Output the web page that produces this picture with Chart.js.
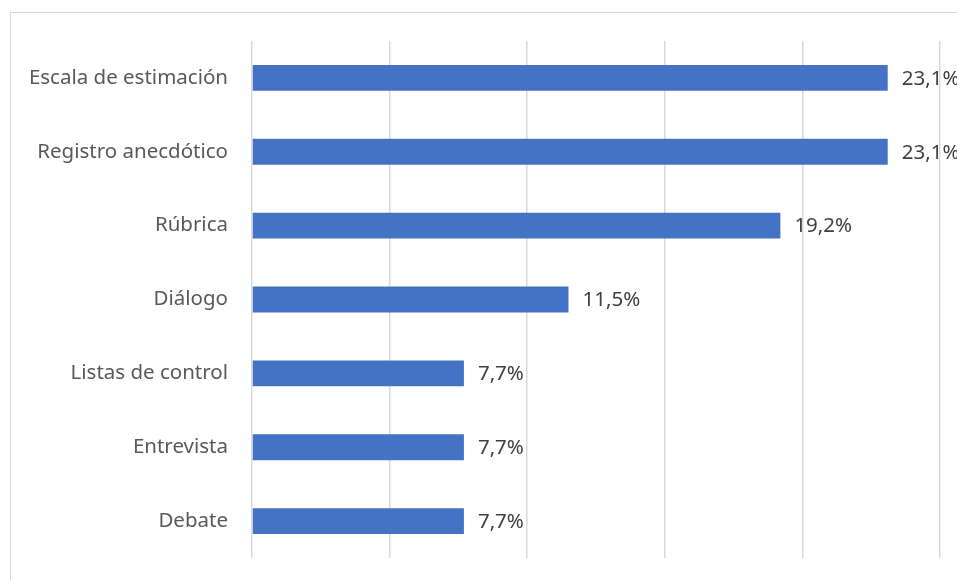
<!DOCTYPE html>
<html><head><meta charset="utf-8">
<style>html,body{margin:0;padding:0;background:#fff;}#wrap{width:957px;height:580px;position:relative;}</style>
<script src="https://cdn.jsdelivr.net/npm/chart.js@4.4.1/dist/chart.umd.min.js"></script>
</head><body><div id="wrap"><canvas id="c" width="957" height="580"></canvas></div>
<script>
const categories = ["Escala de estimación","Registro anecdótico","Rúbrica","Diálogo","Listas de control","Entrevista","Debate"];
const values = [23.1, 23.1, 19.2, 11.5, 7.7, 7.7, 7.7];
const xMax = 25;
const xStep = 5;

const FONT = "'Noto Sans', sans-serif";
const FSIZE = 20.5;

const frame = {
  id: 'frame',
  beforeDraw(chart) {
    const ctx = chart.ctx;
    ctx.save();
    ctx.fillStyle = '#fff';
    ctx.fillRect(0, 0, chart.width, chart.height);
    ctx.strokeStyle = '#d9d9d9';
    ctx.lineWidth = 1;
    ctx.strokeRect(10.5, 12.5, chart.width + 20, chart.height + 20);
    ctx.restore();
  }
};
const labels = {
  id: 'labels',
  afterDatasetsDraw(chart) {
    const ctx = chart.ctx;
    const meta = chart.getDatasetMeta(0);
    ctx.save();
    ctx.font = FSIZE + "px " + FONT;
    ctx.fillStyle = '#404040';
    ctx.textAlign = 'left';
    ctx.textBaseline = 'middle';
    meta.data.forEach((bar, i) => {
      ctx.fillText(values[i].toFixed(1).replace('.', ',') + '%', bar.x + 14, bar.y + 1);
    });
    ctx.restore();
  }
};

new Chart(document.getElementById('c'), {
  type: 'bar',
  data: { labels: categories, datasets: [{ data: values, backgroundColor: '#4472C4', borderWidth: 0, categoryPercentage: 1, barPercentage: 0.35 }] },
  options: {
    indexAxis: 'y',
    responsive: false,
    animation: false,
    layout: { padding: { left: 10, right: 17, top: 41, bottom: 22 } },
    plugins: { legend: { display: false }, tooltip: { enabled: false } },
    scales: {
      x: {
        min: 0, max: xMax,
        ticks: { display: false, stepSize: xStep },
        grid: { color: '#d9d9d9', lineWidth: 1.5, drawTicks: false },
        border: { display: false },
        afterFit(scale) { scale.height = 0; scale.paddingLeft = 0; scale.paddingRight = 0; }
      },
      y: {
        grid: { display: false, drawTicks: false },
        border: { display: false },
        ticks: { color: '#595959', font: { family: FONT, size: FSIZE }, padding: 24 },
        afterFit(scale) { scale.width = 242; scale.paddingTop = 0; scale.paddingBottom = 0; }
      }
    }
  },
  plugins: [frame, labels]
});
</script></body></html>
